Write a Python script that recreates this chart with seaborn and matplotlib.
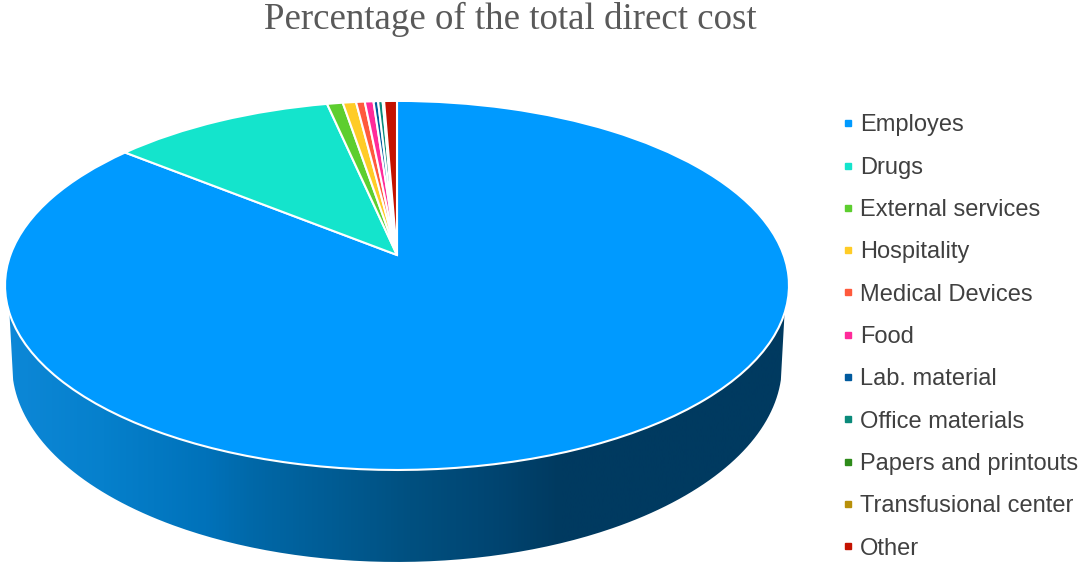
import numpy as np
import matplotlib
matplotlib.use("Agg")
import matplotlib.pyplot as plt
import seaborn as sns
from matplotlib.colors import LinearSegmentedColormap
from matplotlib.lines import Line2D
from matplotlib.patches import PathPatch
from matplotlib.path import Path
from matplotlib.transforms import Transform

categories = ["Employes", "Drugs", "External services", "Hospitality", "Medical Devices",
              "Food", "Lab. material", "Office materials", "Papers and printouts",
              "Transfusional center", "Other"]
share_pct = [85.85, 10.78, 0.76, 0.64, 0.42, 0.42, 0.22, 0.22, 0.04, 0.03, 0.62]
slice_colors = ["#009AFF", "#14E4CC", "#5DCE2F", "#FFCC26", "#FF5A3C", "#FF2A9A",
                "#005A9E", "#0A8A7A", "#2E8B1A", "#B8900A", "#C41200"]
title_text = "Percentage of the total direct cost"

W, H = 1084, 567
APEX_X, APEX_Y = 397, 255
TILT = 0.165


class Perspective(Transform):
    """Tilted-disc projection from the unit pie circle to pixel-sized data units."""
    input_dims = output_dims = 2
    is_separable = False
    has_inverse = False

    def __init__(self, bx, ay, dy=0.0):
        super().__init__()
        self.bx, self.ay, self.dy = bx, ay, dy

    def transform_non_affine(self, values):
        values = np.asarray(values, dtype=float)
        w = 1 + TILT * values[:, 1]
        return np.column_stack([self.bx * values[:, 0] / w,
                                self.ay * values[:, 1] / w - self.dy])


top_face = Perspective(386.6, 179.5)
low_face = Perspective(379.7, 191.6, 77.5)

sns.set_theme(style="white")
fig = plt.figure(figsize=(W / 100, H / 100), dpi=100)
ax = fig.add_axes([0, 0, 1, 1])

palette = sns.color_palette(slice_colors)
wedges, _ = ax.pie(share_pct, colors=palette, startangle=90, counterclock=False,
                   wedgeprops=dict(edgecolor="white", linewidth=1.5))
ax.set_aspect("auto")
ax.set_xlim(-APEX_X, W - APEX_X)
ax.set_ylim(APEX_Y - H, APEX_Y)
ax.axis("off")

for w in wedges:
    w.set_transform(top_face + ax.transData)
    w.set_zorder(3)

# Outer wall of the disc (front part of the largest slice)
top_start = np.arcsin(-0.307)
low_start = np.arcsin(-0.238)
t_top = np.linspace(np.pi - top_start, 2 * np.pi + top_start, 240)
t_low = np.linspace(np.pi - low_start, 2 * np.pi + low_start, 240)
rim = top_face.transform(np.column_stack([np.cos(t_top), np.sin(t_top)]))
base = low_face.transform(np.column_stack([np.cos(t_low), np.sin(t_low)]))
wall = np.vstack([rim, base[::-1], rim[:1]])
wall_patch = PathPatch(Path(wall), transform=ax.transData, facecolor="none", edgecolor="none")
ax.add_patch(wall_patch)

stops = [(0.0, "#0D88D8"), (0.13, "#0680CC"), (0.26, "#0072BA"), (0.32, "#0068A8"),
         (0.52, "#005080"), (0.634, "#004470"), (0.71, "#003A60"), (1.0, "#003A60")]
cmap = LinearSegmentedColormap.from_list("wall", stops)
img = ax.imshow(np.linspace(0, 1, 512)[None, :], cmap=cmap, aspect="auto",
                extent=(-APEX_X, 789 - APEX_X, APEX_Y - H, APEX_Y), zorder=2)
img.set_clip_path(wall_patch)
ax.set_xlim(-APEX_X, W - APEX_X)
ax.set_ylim(APEX_Y - H, APEX_Y)

fig.text(510.5 / W, 1 - 19 / H, title_text, ha="center", va="center", color="#595959",
         fontsize=26.6, family="Liberation Serif")

handles = [Line2D([], [], linestyle="none", marker="s", markersize=4.6,
                  markerfacecolor=c, markeredgecolor=c) for c in palette]
leg = ax.legend(handles, categories, loc="center left", bbox_to_anchor=(841 / W, 1 - 337 / H),
                bbox_transform=fig.transFigure, frameon=False, numpoints=1,
                prop=dict(family="Liberation Sans", size=17), labelcolor="#404040",
                handlelength=0.6, handletextpad=0.2, labelspacing=0.86,
                borderpad=0, borderaxespad=0)

fig.savefig("out.png", dpi=100, facecolor="white")
